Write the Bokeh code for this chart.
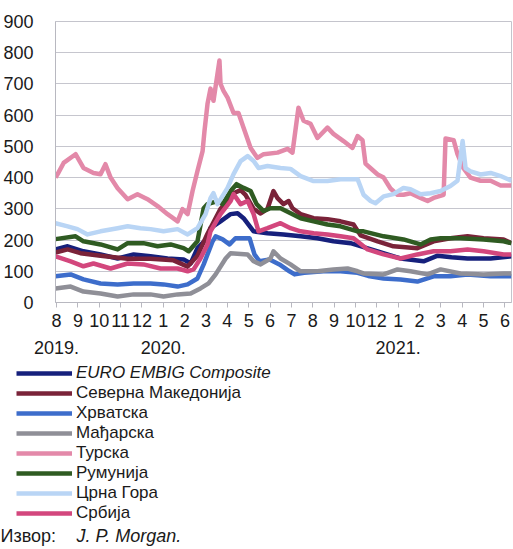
from bokeh.plotting import figure
from bokeh.layouts import column, row
from bokeh.models import Range1d, FixedTicker, Legend, LegendItem, Label, LinearAxis
from bokeh.embed import file_html
from bokeh.resources import INLINE

# ---------------- data ----------------
month_labels = ["8", "9", "10", "11", "12", "1", "2", "3", "4", "5", "6",
                "7", "8", "9", "10", "12", "1", "2", "3", "4", "5", "6"]
year_labels = ["2019.", "2020.", "2021."]
year_pos = [0, 5, 16]
y_ticks = [0, 100, 200, 300, 400, 500, 600, 700, 800, 900]

names = ["EURO EMBIG Composite", "Северна Македонија", "Хрватска", "Мађарска",
         "Турска", "Румунија", "Црна Гора", "Србија"]
colors = ["#16207c", "#7a2339", "#3d6dcb", "#8f8f97",
          "#e389a9", "#2f5b22", "#b9d5f5", "#d3477d"]

# x = months since Aug 2019 (category axis position), y = spread in basis points
euro_x = [-0.05, 0.52, 1.26, 2.06, 2.86, 3.61, 4.40, 5.20, 5.95, 6.28, 6.60, 7.07, 7.21, 7.68,
          8.15, 8.48, 8.76, 9.23, 9.88, 10.63, 11.43, 12.22, 12.97, 13.77, 15.04, 16.11,
          17.19, 17.85, 18.5, 19.25, 20.33, 21.31]
euro_y = [170, 180, 164, 154, 141, 154, 148, 141, 138, 125, 174, 206, 238, 260,
          283, 286, 270, 228, 222, 218, 212, 206, 196, 190, 164, 141,
          132, 150, 145, 141, 141, 148]

mkd_x = [-0.05, 0.52, 1.12, 2.06, 3.33, 4.40, 5.48, 6.14, 6.60, 7.07, 7.68, 8.29, 8.62, 8.85,
         9.23, 9.56, 9.88, 10.16, 10.35, 10.63, 10.87, 11.05, 11.43, 12.04, 12.69, 13.30,
         13.91, 14.24, 15.04, 15.78, 16.90, 17.66, 18.45, 19.25, 20.00, 20.94, 21.31]
mkd_y = [160, 170, 158, 150, 140, 140, 135, 115, 150, 220, 300, 350, 360, 345,
         300, 285, 300, 357, 334, 315, 325, 302, 283, 270, 267, 260,
         250, 215, 196, 180, 174, 196, 206, 212, 206, 202, 190]

hrv_x = [-0.05, 0.66, 1.26, 2.06, 2.86, 3.61, 4.40, 5.01, 5.67, 6.14, 6.60, 6.89, 7.07, 7.31,
         7.45, 7.78, 8.10, 8.38, 9.04, 9.27, 9.51, 9.98, 10.44, 10.91, 11.15, 11.6, 12.5,
         13.3, 14.1, 14.6, 15.32, 16.11, 16.90, 17.66, 18.45, 19.25, 20.33, 21.31]
hrv_y = [84, 90, 74, 61, 58, 61, 61, 58, 51, 58, 77, 122, 154, 196,
         212, 202, 186, 206, 206, 154, 132, 138, 122, 100, 90, 95, 100,
         100, 95, 85, 77, 74, 67, 84, 84, 90, 84, 84]

hun_x = [-0.05, 0.66, 1.26, 2.06, 2.86, 3.61, 4.40, 5.01, 5.67, 6.28, 6.74, 7.12, 7.45, 7.92,
         8.15, 8.95, 9.23, 9.56, 10.02, 10.16, 10.49, 10.96, 11.43, 12.22, 12.97, 13.63,
         14.10, 14.38, 15.32, 15.97, 16.58, 17.38, 17.99, 18.92, 20.00, 20.94, 21.31]
hun_y = [45, 51, 35, 29, 19, 26, 26, 19, 26, 29, 45, 61, 90, 141,
         158, 154, 132, 122, 141, 164, 141, 122, 100, 100, 106, 109,
         100, 93, 90, 106, 100, 90, 106, 93, 90, 93, 93]

tur_x = [-0.05, 0.05, 0.33, 0.89, 1.26, 1.73, 2.06, 2.29, 2.53, 2.86, 3.33, 3.79, 4.26, 4.73,
         5.20, 5.67, 5.90, 6.14, 6.37, 6.60, 6.84, 6.93, 7.07, 7.21, 7.35, 7.63, 7.68, 7.82,
         8.01, 8.29, 8.52, 8.76, 9.09, 9.41, 9.70, 10.35, 10.82, 11.05, 11.33, 11.57, 11.90,
         12.22, 12.69, 12.97, 13.44, 13.86, 14.10, 14.33, 14.47, 14.71, 15.04, 15.32, 15.64,
         15.97, 16.25, 16.58, 17.05, 17.38, 17.66, 18.13, 18.22, 18.60, 18.78, 19.06, 19.39,
         19.86, 20.33, 20.80, 21.31]
tur_y = [400, 411, 447, 475, 431, 415, 411, 443, 400, 366, 331, 347, 331, 309,
         283, 260, 299, 283, 357, 421, 485, 550, 636, 685, 646, 775, 700, 678,
         656, 607, 607, 560, 495, 463, 475, 480, 492, 480, 624, 582, 572,
         527, 560, 540, 517, 495, 533, 520, 445, 430, 410, 400, 365,
         345, 345, 350, 335, 325, 335, 345, 525, 520, 475, 430, 400,
         390, 390, 375, 375]

rou_x = [-0.05, 0.89, 1.26, 2.06, 2.86, 3.33, 4.07, 4.73, 5.34, 5.95, 6.19, 6.60, 6.89, 7.07,
         7.54, 7.78, 8.15, 8.43, 8.76, 9.09, 9.37, 9.70, 10.02, 10.49, 10.96, 11.43, 12.04,
         12.69, 13.30, 14.10, 14.38, 15.32, 16.25, 17.05, 17.52, 17.99, 18.92, 20.00, 20.94,
         21.31]
rou_y = [203, 212, 196, 186, 170, 190, 190, 180, 186, 174, 164, 196, 302, 315,
         325, 315, 357, 379, 367, 357, 315, 293, 302, 302, 286, 270, 260,
         250, 244, 228, 228, 212, 202, 186, 202, 206, 206, 202, 196,
         190]

mne_x = [-0.05, 0.52, 0.98, 1.45, 2.06, 2.86, 3.33, 3.93, 4.40, 5.01, 5.67, 6.14, 6.60, 6.98,
         7.21, 7.35, 7.54, 8.01, 8.29, 8.62, 8.95, 9.23, 9.46, 9.88, 10.49, 10.96, 11.43,
         12.04, 12.69, 13.30, 14.10, 14.38, 14.71, 14.94, 15.32, 15.78, 16.25, 16.58, 17.05,
         17.52, 17.99, 18.45, 18.78, 19.02, 19.16, 19.39, 19.86, 20.33, 20.80, 21.31]
mne_y = [254, 244, 235, 218, 228, 238, 244, 238, 235, 228, 235, 218, 238, 283,
         334, 350, 315, 367, 411, 453, 469, 453, 431, 437, 431, 428, 405,
         389, 389, 395, 395, 345, 325, 318, 340, 347, 367, 363, 347,
         350, 357, 373, 390, 517, 430, 420, 410, 415, 405, 390]

srb_x = [-0.05, 0.66, 1.26, 1.73, 2.53, 3.33, 4.07, 4.87, 5.67, 6.14, 6.42, 6.74, 7.07, 7.21,
         7.68, 8.15, 8.29, 8.62, 8.95, 9.23, 9.46, 9.88, 10.49, 10.96, 11.43, 12.04, 12.69,
         13.30, 13.91, 14.57, 15.32, 16.11, 16.90, 17.66, 18.45, 19.25, 20.00, 20.94, 21.31]
srb_y = [148, 132, 116, 125, 109, 125, 122, 109, 109, 100, 106, 141, 186, 228,
         283, 325, 347, 315, 325, 283, 228, 238, 254, 238, 228, 222, 218,
         212, 206, 170, 154, 141, 154, 164, 164, 170, 164, 154, 154]

series_x = [euro_x, mkd_x, hrv_x, hun_x, tur_x, rou_x, mne_x, srb_x]
series_y = [euro_y, mkd_y, hrv_y, hun_y, tur_y, rou_y, mne_y, srb_y]

FONT = "Liberation Sans"
TXT = "#1a1a1a"
LW = 4.5

# ---------------- chart ----------------
p = figure(width=513, height=360, output_backend="svg", toolbar_location=None,
           x_range=Range1d(-0.05, 21.31), y_range=Range1d(0, 900),
           min_border_left=55, min_border_right=2, min_border_top=21, min_border_bottom=58)
p.background_fill_color = "white"
p.border_fill_color = "white"
p.outline_line_color = "#c4c4cc"
p.outline_line_width = 1

for xs, ys, c in zip(series_x, series_y, colors):
    p.line(xs, ys, line_color=c, line_width=LW, line_join="round")

# y axis
p.yaxis.ticker = FixedTicker(ticks=y_ticks)
p.yaxis.major_tick_line_color = None
p.yaxis.minor_tick_line_color = None
p.yaxis.axis_line_color = "#b8b8c0"
p.yaxis.major_label_text_font = FONT
p.yaxis.major_label_text_font_size = "18px"
p.yaxis.major_label_text_color = TXT
p.yaxis.major_label_standoff = 16

# x axis (months)
p.xaxis.ticker = FixedTicker(ticks=list(range(len(month_labels))))
p.xaxis.major_label_overrides = {i: lab for i, lab in enumerate(month_labels)}
p.xaxis.major_tick_out = 5
p.xaxis.major_tick_in = 0
p.xaxis.minor_tick_line_color = None
p.xaxis.major_tick_line_color = "#b8b8c0"
p.xaxis.axis_line_color = "#b8b8c0"
p.xaxis.major_label_text_font = FONT
p.xaxis.major_label_text_font_size = "18px"
p.xaxis.major_label_text_color = TXT
p.xaxis.major_label_standoff = 6

# second axis with years
yax = LinearAxis(ticker=FixedTicker(ticks=year_pos),
                 major_label_overrides={xp: yl for xp, yl in zip(year_pos, year_labels)},
                 axis_line_color=None, major_tick_line_color=None,
                 minor_tick_line_color=None, major_label_standoff=5,
                 major_label_text_font=FONT, major_label_text_font_size="18px",
                 major_label_text_color=TXT)
p.add_layout(yax, "below")

p.xgrid.grid_line_color = None
p.ygrid.grid_line_color = "#c6c6ce"
p.ygrid.grid_line_width = 1

# ---------------- legend + source panel ----------------
H2 = 189
q = figure(width=513, height=H2, output_backend="svg", toolbar_location=None,
           x_range=Range1d(0, 513), y_range=Range1d(-3000, -3000 + H2),
           x_axis_type=None, y_axis_type=None,
           min_border_left=0, min_border_right=0, min_border_top=0, min_border_bottom=0)
q.outline_line_color = None
q.grid.grid_line_color = None
q.background_fill_color = "white"
q.border_fill_color = "white"

legend_renderers = []
for xs, ys, c in zip(series_x, series_y, colors):
    legend_renderers.append(q.line(xs, ys, line_color=c, line_width=LW))


def make_legend(items, loc, style):
    return Legend(items=items, location=loc, orientation="vertical",
                  glyph_width=56, glyph_height=20, label_height=20, label_standoff=4,
                  spacing=0, padding=0, margin=0,
                  label_text_font=FONT, label_text_font_size="17px",
                  label_text_font_style=style, label_text_color=TXT,
                  border_line_color=None, background_fill_alpha=0)


items_a = [LegendItem(label=names[0], renderers=[legend_renderers[0]])]
items_b = [LegendItem(label=n, renderers=[r]) for n, r in zip(names[1:], legend_renderers[1:])]
q.add_layout(make_legend(items_a, (16, 166), "italic"))
q.add_layout(make_legend(items_b, (16, 26), "normal"))

q.add_layout(Label(x=0, y=14, x_units="screen", y_units="screen", text="Извор:",
                   text_baseline="middle", text_font=FONT, text_font_size="18px",
                   text_color=TXT))
q.add_layout(Label(x=76, y=14, x_units="screen", y_units="screen", text="J. P. Morgan.",
                   text_baseline="middle", text_font=FONT, text_font_size="18px",
                   text_font_style="italic", text_color=TXT))

layout = column(p, row(q, spacing=0), spacing=0)
open("out.html", "w").write(file_html(layout, INLINE))
